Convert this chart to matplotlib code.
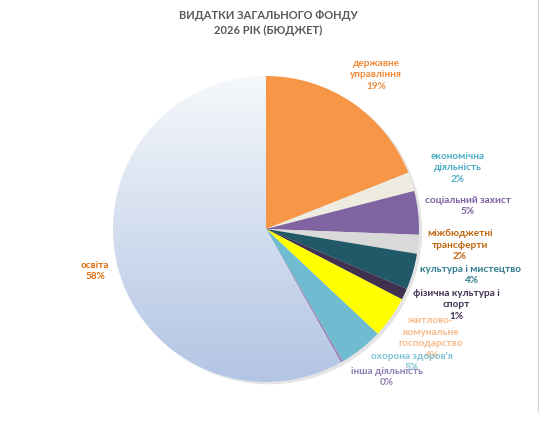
import numpy as np
import matplotlib
matplotlib.use('Agg')
import matplotlib.pyplot as plt
from matplotlib.colors import LinearSegmentedColormap

plt.rcParams['font.family'] = ['Lato', 'DejaVu Sans']

# data (clockwise from 12 o'clock)
categories = ['державне\nуправління', 'економічна\nдіяльність', 'соціальний захист',
              'міжбюджетні\nтрансферти', 'культура і мистецтво', 'фізична культура і\nспорт',
              'житлово-\nкомунальне\nгосподарство', "охорона здоров'я",
              'інша діяльність', 'освіта']
shares = [19.0, 2.0, 4.6, 2.0, 3.8, 1.2, 4.4, 4.6, 0.3, 58.1]
wedge_colors = ['#F79646', '#EEECE1', '#8064A2', '#D9D9D9', '#215968', '#403151',
                '#FFFF00', '#6FBCD0', '#9B8CC0', 'none']
text_colors = ['#F08A3A', '#4BACC6', '#7B5FA0', '#C0640C', '#2E7A8C', '#403151',
               '#F6B98A', '#7CC2D5', '#8E7DB5', '#E46C0A']
# label centres in pixels of the 539x431 picture
label_px = [(376, 75), (458, 168), (468, 206), (460, 245), (471, 275), (456, 305),
            (431, 338), (412, 362), (387, 377), (95, 271)]

W, H = 539, 431
cx, cy, R = 266, 230, 153

fig = plt.figure(figsize=(W / 100, H / 100), dpi=100)
ax = fig.add_axes([0, 0, 1, 1])

# soft shadow
ax.pie(shares, radius=1.0, center=(0.02, -0.015), startangle=90, counterclock=False,
       colors=['#E4E4E4'] * len(shares), wedgeprops=dict(linewidth=0))
wedges, _ = ax.pie(shares, radius=1.0, startangle=90, counterclock=False,
                   colors=[c if c != 'none' else 'white' for c in wedge_colors],
                   wedgeprops=dict(linewidth=0))

# gradient fill for освіта
cmap = LinearSegmentedColormap.from_list('g', ['#B2C5E4', '#D3DEEF', '#F6F8FB'])
grad = np.linspace(0, 1, 256).reshape(-1, 1)
im = ax.imshow(grad, cmap=cmap, extent=(-1, 1, -1, 1), origin='lower',
               aspect='auto', zorder=wedges[-1].get_zorder() + 0.1)
im.set_clip_path(wedges[-1])

ax.set_xlim(-cx / R, (W - cx) / R)
ax.set_ylim((cy - H) / R, cy / R)
ax.set_aspect('equal')
ax.axis('off')

pcts = ['%d%%' % round(s) for s in shares]
for name, p, col, (px, py) in zip(categories, pcts, text_colors, label_px):
    ax.text((px - cx) / R, (cy - py) / R, name + '\n' + p, ha='center', va='center',
            fontsize=7.2, fontweight='bold', color=col, linespacing=1.38, zorder=10)

fig.text(0.497, 1 - 23 / H, 'ВИДАТКИ ЗАГАЛЬНОГО ФОНДУ\n2026 РІК (БЮДЖЕТ)',
         ha='center', va='center', fontsize=8, fontweight='bold', color='#595959',
         linespacing=1.55)

fig.add_artist(plt.Line2D([537.5 / W, 537.5 / W], [1 - 413 / H, 1], color='#D9D9D9',
                          lw=1, transform=fig.transFigure))

fig.savefig('out.png', dpi=100)
